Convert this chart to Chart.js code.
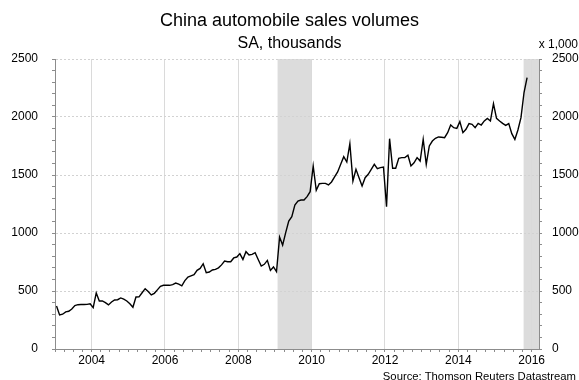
<!DOCTYPE html>
<html>
<head>
<meta charset="utf-8">
<script src="https://cdn.jsdelivr.net/npm/chart.js@4/dist/chart.umd.min.js"></script>
<style>
  body { margin: 0; background: #fff; }
  #wrap { position: relative; width: 579px; height: 380px; font-family: "Liberation Sans", Arial, sans-serif; color: #000; }
  #wrap canvas { position: absolute; left: 0; top: 0; }
  .txt { position: absolute; white-space: nowrap; line-height: 1; }
  #title { left: 0; width: 579px; text-align: center; top: 11px; font-size: 18px; }
  #subtitle { left: 0; width: 579px; text-align: center; top: 35px; font-size: 16px; }
  #unit { right: 1px; top: 38px; font-size: 12px; }
  #source { right: 3px; top: 371px; font-size: 11.3px; }
</style>
</head>
<body>
<div id="wrap">
  <canvas id="chart" width="579" height="380"></canvas>
  <div class="txt" id="title">China automobile sales volumes</div>
  <div class="txt" id="subtitle">SA, thousands</div>
  <div class="txt" id="unit">x 1,000</div>
  <div class="txt" id="source">Source: Thomson Reuters Datastream</div>
</div>
<script>
// monthly sales, SA, thousands, Jan 2003 .. Nov 2015
const startYear = 2003;
const sales = [
  370, 293, 300, 320, 325, 345, 375, 382, 383, 383, 385, 390,
  356, 483, 414, 414, 400, 380, 405, 423, 425, 440, 430, 414,
  390, 360, 448, 450, 485, 520, 495, 466, 480, 510, 540, 549,
  549, 549, 555, 568, 560, 545, 590, 620, 630, 640, 678, 695,
  735, 658, 664, 681, 687, 700, 725, 758, 752, 752, 785, 793,
  822, 772, 839, 810, 816, 830, 772, 715, 730, 764, 678, 707,
  667, 965, 896, 1003, 1103, 1141, 1241, 1276, 1284, 1284, 1313, 1356,
  1578, 1368, 1425, 1428, 1428, 1414, 1440, 1483, 1526, 1592, 1658, 1612,
  1770, 1448, 1549, 1477, 1405, 1477, 1506, 1549, 1592, 1555, 1563, 1569,
  1227, 1813, 1558, 1558, 1644, 1650, 1650, 1670, 1578, 1605, 1650, 1620,
  1808, 1592, 1750, 1793, 1816, 1828, 1825, 1822, 1865, 1931, 1908, 1902,
  1960, 1865, 1894, 1943, 1937, 1908, 1945, 1931, 1966, 1988, 1966, 2115,
  1988, 1966, 1945, 1928, 1943, 1856, 1807, 1888, 1994, 2211, 2340
];

// shaded periods (decimal years)
const shadeStart = [2009.07, 2015.78];
const shadeEnd = [2010.0, 2016.2];

// axis ranges / ticks
const xMin = 2003, xMax = 2016.2;
const yearLabels = [2004, 2006, 2008, 2010, 2012, 2014, 2016];
const yMax = 2500, yMajor = 500, yMinor = 100;

const points = sales.map((v, i) => ({ x: startYear + (i + 0.5) / 12, y: v }));

const quarterTicks = [];
for (let q = xMin * 4; q <= 2016 * 4; q++) quarterTicks.push({ value: q / 4 });

const shadePlugin = {
  id: 'shade',
  beforeDraw(chart) {
    const { ctx, chartArea, scales } = chart;
    ctx.save();
    ctx.fillStyle = '#dcdcdc';
    shadeStart.forEach((s, i) => {
      const x0 = scales.x.getPixelForValue(s);
      const x1 = Math.min(scales.x.getPixelForValue(shadeEnd[i]), chartArea.right);
      ctx.fillRect(x0, chartArea.top, x1 - x0, chartArea.bottom - chartArea.top);
    });
    ctx.restore();
  }
};

const tickFont = { family: '"Liberation Sans", Arial, sans-serif', size: 12 };
const axisGrey = '#8c8c8c';

const yAxis = (pos, width, pad) => ({
  type: 'linear',
  position: pos,
  min: 0,
  max: yMax,
  afterFit: s => { s.width = width; },
  ticks: {
    stepSize: yMinor,
    autoSkip: false,
    padding: pad,
    color: '#000',
    font: tickFont,
    callback: v => (v % yMajor === 0 ? String(v) : '')
  },
  grid: {
    drawOnChartArea: pos === 'left',
    color: c => (c.tick && c.tick.value % yMajor === 0 && c.tick.value > 0 ? '#d2d2d2' : 'transparent'),
    tickColor: axisGrey,
    tickLength: 3
  },
  border: { color: axisGrey, dash: [2, 2] }
});

new Chart(document.getElementById('chart'), {
  type: 'line',
  data: {
    datasets: [{
      data: points,
      borderColor: '#000',
      borderWidth: 1.4,
      pointRadius: 0,
      tension: 0,
      yAxisID: 'y'
    }]
  },
  options: {
    responsive: false,
    animation: false,
    layout: { padding: { left: 0, right: 0, top: 59, bottom: 11 } },
    plugins: { legend: { display: false }, tooltip: { enabled: false } },
    scales: {
      x: {
        type: 'linear',
        min: xMin,
        max: xMax,
        afterBuildTicks: s => { s.ticks = quarterTicks.map(t => ({ value: t.value })); },
        afterFit: s => { s.height = 20; },
        ticks: {
          autoSkip: false,
          maxRotation: 0,
          padding: 1,
          color: '#000',
          font: tickFont,
          callback: v => (yearLabels.includes(v) ? String(v) : '')
        },
        grid: {
          color: c => (c.tick && yearLabels.includes(c.tick.value) ? '#dadada' : 'transparent'),
          tickColor: axisGrey,
          tickLength: 3
        },
        border: { color: axisGrey }
      },
      y: yAxis('left', 55, 14),
      y2: yAxis('right', 40, 10)
    }
  },
  plugins: [shadePlugin]
});
</script>
</body>
</html>
